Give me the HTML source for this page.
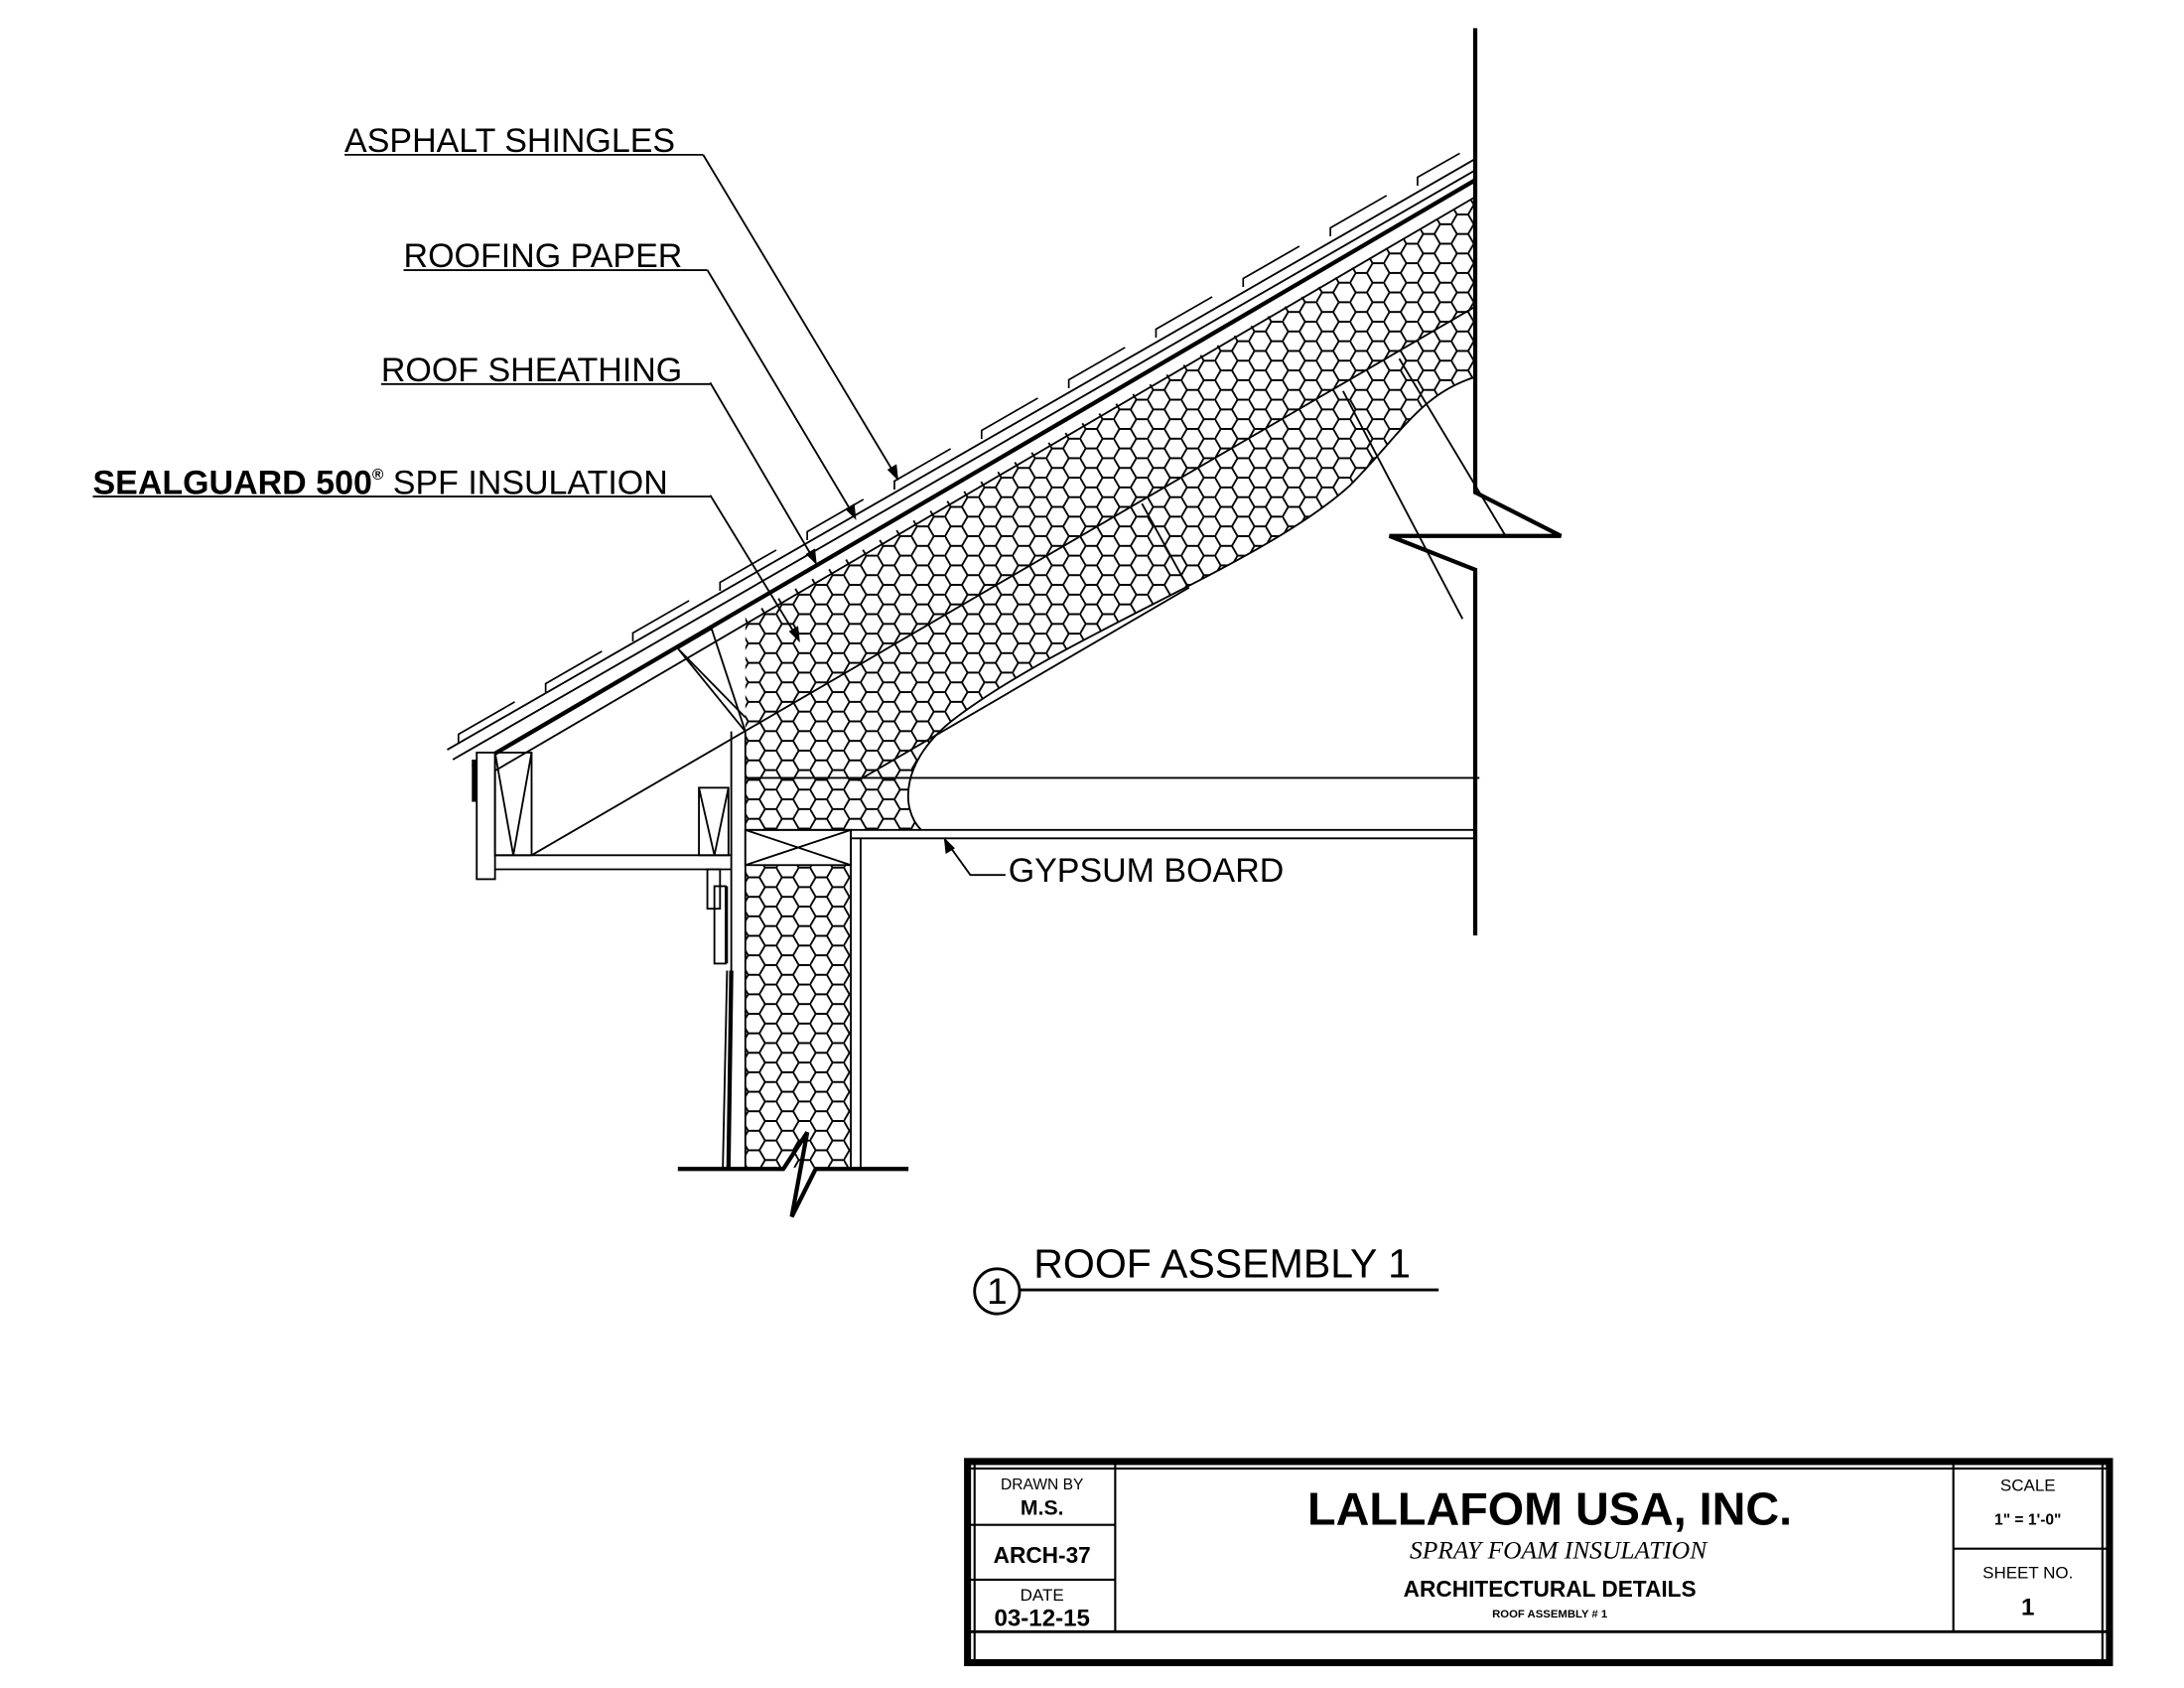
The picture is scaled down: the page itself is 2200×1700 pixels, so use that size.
<!DOCTYPE html>
<html><head><meta charset="utf-8"><style>
html,body{margin:0;padding:0;background:#fff;}
svg{display:block;}
text{font-family:"Liberation Sans",Arial,sans-serif;}
text.serif{font-family:"Liberation Serif",serif;}
</style></head><body>
<svg width="2200" height="1700" viewBox="0 0 1553 1200" xmlns="http://www.w3.org/2000/svg">
<defs>
<pattern id="hex" patternUnits="userSpaceOnUse" width="24" height="13.86" x="0" y="0">
<path d="M0,6.93 L4,0 L12,0 L16,6.93 L12,13.86 L4,13.86 Z M16,6.93 L24,6.93" fill="none" stroke="#000" stroke-width="1.3"/>
</pattern>
</defs>
<rect width="1553" height="1200" fill="#fff"/>
<g stroke="#000" fill="none" stroke-width="1.3">
<path d="M530,439 L1049,140 L1049,268 C1010,280 995,310 960,345 C900,400 760,450 680,510 C640,540 640,575 655,590 L605,590 L605,830 L530,830 Z" fill="url(#hex)" stroke="none"/>
<path d="M1049,268 C1010,280 995,310 960,345 C900,400 760,450 680,510 C640,540 640,575 655,590"/>
<path d="M1049,20 L1049,350 L1110,381 L988,381 L1049,405 L1049,665" stroke-width="3"/>
<line x1="318" y1="533" x2="1049" y2="113"/>
<line x1="322" y1="540" x2="1049" y2="121"/>
<line x1="336" y1="545" x2="1049" y2="128" stroke-width="3"/>
<line x1="345" y1="552" x2="1049" y2="140"/>
<g stroke-width="1.2">
<path d="M326,528 l0,-6 l40,-23 M388,492 l0,-6 l40,-23 M450,456 l0,-6 l40,-23 M512,420 l0,-6 l40,-23 M574,384 l0,-6 l40,-23 M636,348 l0,-6 l40,-23 M698,312 l0,-6 l40,-23 M760,276 l0,-6 l40,-23 M822,240 l0,-6 l40,-23 M884,204 l0,-6 l40,-23 M946,168 l0,-6 l40,-23 M1008,132 l0,-6 l30,-17"/>
</g>
<line x1="378" y1="608" x2="1049" y2="218"/>
<rect x="339" y="535" width="13" height="90" fill="#fff"/>
<line x1="337" y1="540" x2="337" y2="570" stroke-width="3"/>
<rect x="352" y="535" width="26" height="73"/>
<path d="M352,535 L365,608 L378,535"/>
<line x1="352" y1="608" x2="520" y2="608"/>
<line x1="352" y1="618" x2="520" y2="618"/>
<rect x="497" y="560" width="21" height="48"/>
<path d="M497,560 L508,608 L518,560"/>
<rect x="503" y="618" width="9" height="28"/>
<rect x="508" y="630" width="8" height="55"/>
<line x1="517" y1="630" x2="517" y2="685"/>
<path d="M520,690 L518,830" stroke-width="3"/>
<path d="M517,690 L514,830"/>
<path d="M482,461 L530,520 L506,447 Z M506,447 L530,520"/>
<path d="M482,461 L530,510"/>
<line x1="520" y1="520" x2="520" y2="690"/>
<line x1="530" y1="520" x2="530" y2="830"/>
<line x1="605" y1="590" x2="605" y2="830"/>
<line x1="612" y1="596" x2="612" y2="830"/>
<rect x="530" y="590" width="75" height="25" fill="#fff"/>
<path d="M530,590 L605,615 M530,615 L605,590"/>
<line x1="530" y1="553" x2="1052" y2="553"/>
<line x1="530" y1="590" x2="1049" y2="590"/>
<line x1="605" y1="596" x2="1049" y2="596"/>
<path d="M812,358 L845,418 L610,555"/>
<path d="M955,278 L1040,440"/>
<path d="M995,255 L1070,380"/>
<path d="M482,831 L557,831 L574,805 L563,865 L580,831 L646,831" stroke-width="3"/>
<line x1="500" y1="110" x2="638" y2="340"/>
<line x1="503" y1="192" x2="608" y2="368"/>
<line x1="505" y1="272" x2="580" y2="400"/>
<line x1="505" y1="352" x2="568" y2="455"/>
<path d="M715,622 L690,622 L672,597"/>
<path d="M672,597 l1,9 l5,-3 Z" fill="#000"/>
<path d="M638,340 l-1,-9 l-5,3 Z M608,368 l-1,-9 l-5,3 Z M580,400 l-1,-9 l-5,3 Z M568,455 l-1,-9 l-5,3 Z" fill="#000"/>
<line x1="245" y1="110" x2="500" y2="110"/>
<line x1="287" y1="192" x2="503" y2="192"/>
<line x1="271" y1="273" x2="505" y2="273"/>
<line x1="66" y1="353" x2="505" y2="353"/>
<circle cx="709" cy="918" r="16" stroke-width="2"/>
<line x1="725" y1="917" x2="1023" y2="917" stroke-width="2"/>
<rect x="688" y="1039" width="812" height="143" stroke-width="5"/>
<line x1="690" y1="1160" x2="1498" y2="1160" stroke-width="2"/>
<line x1="793" y1="1041" x2="793" y2="1160" stroke-width="1.5"/>
<line x1="1389" y1="1041" x2="1389" y2="1160" stroke-width="1.5"/>
<line x1="690" y1="1084" x2="793" y2="1084" stroke-width="1.5"/>
<line x1="690" y1="1123" x2="793" y2="1123" stroke-width="1.5"/>
<line x1="1389" y1="1101" x2="1498" y2="1101" stroke-width="1.5"/>
<line x1="690" y1="1044" x2="1498" y2="1044" stroke-width="1.5"/>
<line x1="693" y1="1041" x2="693" y2="1180" stroke-width="1.5"/>
<line x1="1495" y1="1041" x2="1495" y2="1180" stroke-width="1.5"/>
</g>
<g fill="#000" font-size="24">
<text x="245" y="108">ASPHALT SHINGLES</text>
<text x="287" y="190">ROOFING PAPER</text>
<text x="271" y="271">ROOF SHEATHING</text>
<text x="66" y="351"><tspan font-weight="bold">SEALGUARD 500</tspan><tspan font-size="11" dy="-10" font-weight="bold">®</tspan><tspan dy="10"> SPF INSULATION</tspan></text>
<text x="717" y="627">GYPSUM BOARD</text>
<text x="735" y="908" font-size="29">ROOF ASSEMBLY 1</text>
<text x="709" y="927" font-size="26" text-anchor="middle">1</text>
</g>
<g fill="#000" text-anchor="middle" font-weight="bold">
<text x="741" y="1059" font-size="11" font-weight="normal">DRAWN BY</text>
<text x="741" y="1077" font-size="15">M.S.</text>
<text x="741" y="1111" font-size="16">ARCH-37</text>
<text x="741" y="1138" font-size="12" font-weight="normal">DATE</text>
<text x="741" y="1156" font-size="17">03-12-15</text>
<text x="1102" y="1084" font-size="33">LALLAFOM USA, INC.</text>
<text class="serif" x="1108" y="1108" font-size="18" font-style="italic" font-weight="normal">SPRAY FOAM INSULATION</text>
<text x="1102" y="1135" font-size="16">ARCHITECTURAL DETAILS</text>
<text x="1102" y="1150" font-size="8">ROOF ASSEMBLY # 1</text>
<text x="1442" y="1060" font-size="12" font-weight="normal">SCALE</text>
<text x="1442" y="1084" font-size="11">1" = 1'-0"</text>
<text x="1442" y="1122" font-size="12" font-weight="normal">SHEET NO.</text>
<text x="1442" y="1148" font-size="17">1</text>
</g>
</svg>
</body></html>
